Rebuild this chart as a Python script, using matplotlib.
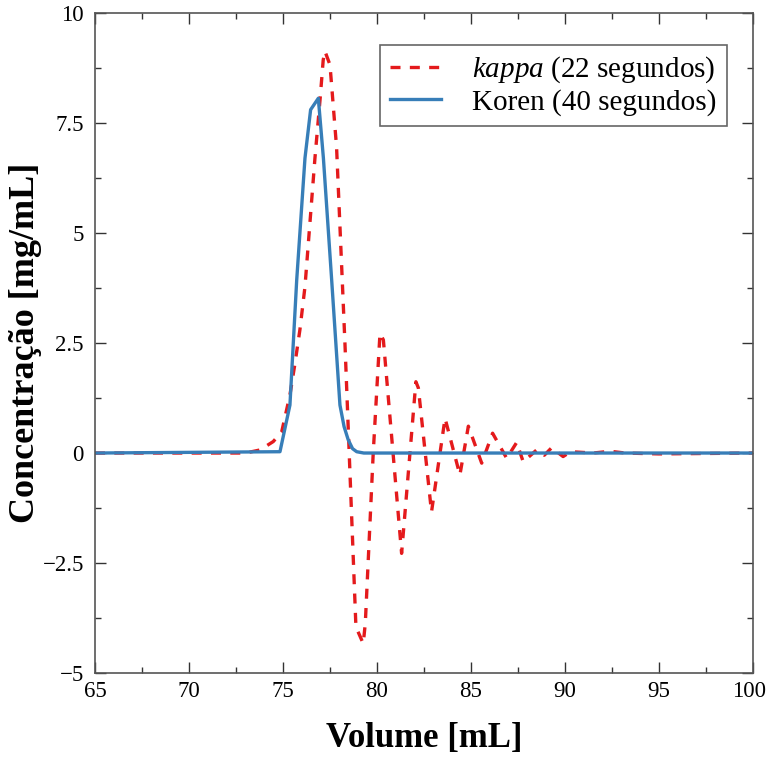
import matplotlib
matplotlib.use('Agg')
import numpy as np
import matplotlib.pyplot as plt
import matplotlib.transforms as mtransforms
from matplotlib.ticker import MultipleLocator

plt.rcParams['font.family'] = ['Liberation Serif', 'DejaVu Serif']
plt.rcParams['mathtext.fontset'] = 'custom'
plt.rcParams['mathtext.rm'] = 'Liberation Serif'
plt.rcParams['mathtext.it'] = 'Liberation Serif:italic'

# kappa (22 segundos) - dashed red
vol_kappa = [65.0, 73.0, 73.78, 74.48, 74.93, 75.37, 75.64, 75.9, 76.17, 76.7,
             76.97, 77.14, 77.23, 77.5, 77.85, 78.3, 78.88, 79.27, 79.38, 79.8,
             80.16, 80.34, 81.31, 82.07, 82.2, 82.9, 83.62, 84.41, 84.86, 85.57,
             86.15, 86.9, 87.43, 87.78, 88.49, 88.9, 89.29, 89.9, 90.3, 91.5,
             92.4, 93.2, 95.0, 100.0]
conc_kappa = [0.0, 0.0, 0.07, 0.26, 0.48, 1.32, 2.04, 2.8, 3.78, 6.7,
              8.02, 8.93, 9.13, 8.82, 6.95, 2.45, -3.95, -4.33, -3.86, 0.0,
              2.72, 2.57, -2.28, 1.62, 1.48, -1.34, 0.79, -0.5, 0.61, -0.23,
              0.45, -0.12, 0.24, -0.2, 0.07, -0.05, 0.12, -0.08, 0.03, 0.0,
              0.04, 0.0, -0.02, 0.0]

# Koren (40 segundos) - solid blue
vol_koren = [65.0, 74.84, 75.37, 75.73, 76.17, 76.47, 76.88, 77.15, 77.59,
             78.03, 78.25, 78.47, 78.7, 78.92, 79.3, 100.0]
conc_koren = [0.0, 0.03, 1.09, 3.93, 6.7, 7.8, 8.06, 6.7, 3.93,
              1.09, 0.6, 0.3, 0.1, 0.03, 0.0, 0.0]

xticks = [65, 70, 75, 80, 85, 90, 95, 100]
yticks = [-5, -2.5, 0, 2.5, 5, 7.5, 10]
ytick_labels = ['\u22125', '\u22122.5', '0', '2.5', '5', '7.5', '10']

fig = plt.figure(figsize=(7.66, 7.58), dpi=100)
ax = fig.add_axes([0.124, 0.112, 0.859, 0.871])

ax.plot(vol_kappa, conc_kappa, color='#e41a1c', lw=2.4, ls=(0, (3.0, 2.8)),
        label=r'$\mathit{kappa}$ (22 segundos)')
ax.plot(vol_koren, conc_koren, color='#377eb8', lw=2.4,
        label='Koren (40 segundos)')

ax.set_xlim(65, 100)
ax.set_ylim(-5, 10)
ax.set_xticks(xticks)
ax.set_xticklabels([str(t) for t in xticks])
ax.set_yticks(yticks)
ax.set_yticklabels(ytick_labels)
ax.xaxis.set_minor_locator(MultipleLocator(2.5))
ax.yaxis.set_minor_locator(MultipleLocator(1.25))
ax.tick_params(which='both', direction='in', top=True, right=True,
               labelsize=16.5, color='#333333')
ax.tick_params(axis='y', which='major', pad=8)
ax.tick_params(axis='x', which='major', pad=6)
ax.tick_params(which='major', length=8, width=1.0)
ax.tick_params(which='minor', length=4, width=1.0)
for s in ax.spines.values():
    s.set_color('#555555')
    s.set_linewidth(1.2)

# nudge the last x label so it stays inside the canvas
last = ax.get_xticklabels()[-1]
last.set_transform(last.get_transform() +
                   mtransforms.ScaledTranslation(-4 / 100, 0, fig.dpi_scale_trans))

ax.set_xlabel('Volume [mL]', fontsize=25, fontweight='bold', labelpad=14)
ax.set_ylabel('Concentração [mg/mL]', fontsize=26, fontweight='bold',
              labelpad=0)

leg = ax.legend(loc='upper right', bbox_to_anchor=(0.96, 0.952), fontsize=21,
                fancybox=False, framealpha=1, edgecolor='#666666',
                handlelength=1.75, handletextpad=1.05, labelspacing=0.12,
                borderpad=0.35, borderaxespad=0)
leg.get_frame().set_linewidth(1.2)

plt.savefig('out.png', dpi=100)
